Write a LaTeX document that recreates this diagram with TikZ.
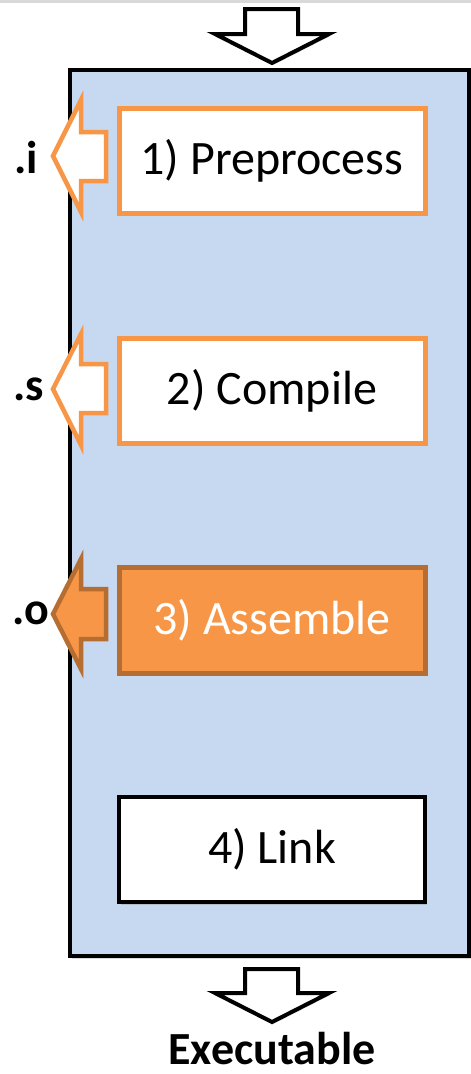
\documentclass[tikz,border=0pt]{standalone}
\usepackage{fontspec}
\setmainfont{Carlito}
\usetikzlibrary{shadows}
\definecolor{bluefill}{HTML}{C6D9F1}
\definecolor{orangeA}{HTML}{F79646}
\definecolor{orangeD}{HTML}{B66D31}
\definecolor{topgray}{HTML}{D9D9D9}
\tikzset{
  stagebox/.style={rectangle, minimum width=306pt, minimum height=105pt, inner sep=0pt,
    font=\fontsize{48}{54}\selectfont},
  lightbox/.style={stagebox, draw=orangeA, line width=5pt, fill=white},
  hotbox/.style={stagebox, draw=orangeD, line width=5pt, fill=orangeA, text=white},
  linkbox/.style={stagebox, draw=black, line width=4.5pt, fill=white,
    drop shadow={shadow xshift=2pt, shadow yshift=-3pt, opacity=0.3}},
  extlabel/.style={font=\bfseries\fontsize{46}{52}\selectfont, inner sep=0pt},
  flowarrow/.style={draw=black, line width=4pt, fill=white, line join=miter,
    drop shadow={shadow xshift=1.5pt, shadow yshift=-2pt, opacity=0.25}},
  sidearrow/.style={draw=orangeA, line width=4.5pt, fill=white, line join=miter},
  hotarrow/.style={draw=orangeD, line width=4.5pt, fill=orangeA, line join=miter},
}
\begin{document}
\begin{tikzpicture}[x=1pt,y=-1pt]
\useasboundingbox (0,0) rectangle (471,1074);
\fill[topgray] (0,0) rectangle (471,3);
% main container
\node[draw=black, line width=4pt, fill=bluefill, rectangle, inner sep=0pt,
  minimum width=399pt, minimum height=886.5pt,
  drop shadow={shadow xshift=2pt, shadow yshift=-3pt, opacity=0.3}] (main) at (269.5,512.75) {};
% top arrow
\draw[flowarrow] (245,9) -- (298,9) -- (298,34) -- (329,34) -- (272,63) -- (215,34) -- (245,34) -- cycle;
% stage boxes
\node[lightbox] (b1) at (272,160.5) {1) Preprocess};
\node[lightbox] (b2) at (272,391) {2) Compile};
\node[hotbox, minimum height=106pt] (b3) at (272,620) {3) Assemble};
\node[linkbox] (b4) at (272,849.5) {4) Link};
% side arrows
\draw[sidearrow]
  (53,156) -- (81,100) -- (81,132) -- (106,132) -- (106,181) -- (81,181) -- (81,212) -- cycle;
\draw[sidearrow]
  (53,389) -- (81,334) -- (81,364) -- (106,364) -- (106,413) -- (81,413) -- (81,445) -- cycle;
\draw[hotarrow]
  (53,614) -- (81,559) -- (81,589) -- (106,589) -- (106,639) -- (81,639) -- (81,669) -- cycle;
\node[extlabel] (li) at (26,158) {.i};
\node[extlabel] (ls) at (29,389) {.s};
\node[extlabel] (lo) at (31,613) {.o};
% bottom arrow
\draw[flowarrow] (245,969) -- (298,969) -- (298,993) -- (329,993) -- (272,1022) -- (215,993) -- (245,993) -- cycle;
\node[extlabel, anchor=base] (exe) at (272,1064) {Executable};
\end{tikzpicture}
\end{document}
